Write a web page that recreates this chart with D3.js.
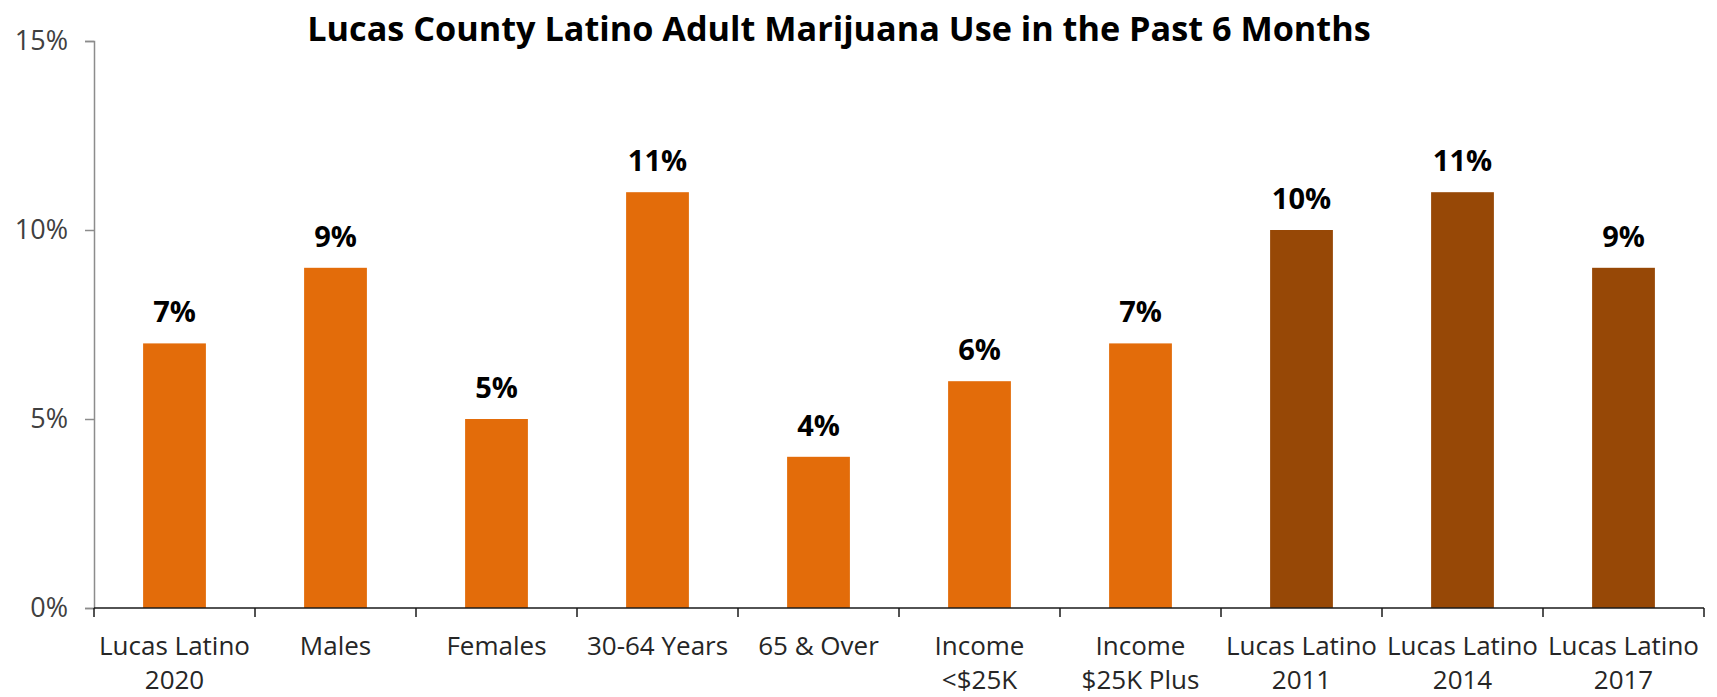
<!DOCTYPE html>
<html><head><meta charset="utf-8">
<script src="https://cdn.jsdelivr.net/npm/d3@7/dist/d3.min.js"></script>
<style>
html,body{margin:0;padding:0;background:#fff;}
svg{display:block;font-family:"Open Sans","Noto Sans",sans-serif;}
</style></head>
<body>
<svg id="chart" width="1717" height="697"></svg>
<script>
const titleText = "Lucas County Latino Adult Marijuana Use in the Past 6 Months";
const categories = ["Lucas Latino\n2020","Males","Females","30-64 Years","65 & Over","Income\n<$25K","Income\n$25K Plus","Lucas Latino\n2011","Lucas Latino\n2014","Lucas Latino\n2017"];
const values = [7, 9, 5, 11, 4, 6, 7, 10, 11, 9];
const groups = ["current","current","current","current","current","current","current","past","past","past"];
const yTicks = [0, 5, 10, 15];

const colors = {current:"#E36C0A", past:"#974806"};
const W = 1717, H = 697;
const m = {left:94, right:13, top:41, bottom:89};
const svg = d3.select("#chart");

const x = d3.scaleBand().domain(categories).range([m.left, W - m.right]).paddingInner(0.61).paddingOuter(0.305);
const y = d3.scaleLinear().domain([0, 15]).range([H - m.bottom, m.top]);

function fit(sel, target){
  const w = sel.node().getComputedTextLength();
  const fs = parseFloat(sel.attr("font-size"));
  sel.attr("font-size", fs * target / w);
}

// title
const t = svg.append("text").attr("x", 839).attr("y", 41).attr("text-anchor","middle")
  .attr("font-weight","bold").attr("font-size",28).attr("fill","#000").text(titleText);
fit(t, 1064);

// y axis
const yAxis = svg.append("g").attr("transform",`translate(${m.left},0)`)
  .call(d3.axisLeft(y).tickValues(yTicks).tickFormat(d => d + "%").tickSize(9).tickPadding(17));
yAxis.select(".domain").attr("stroke","#8c8c8c").attr("stroke-width",1.5);
yAxis.selectAll(".tick line").attr("stroke","#8c8c8c").attr("stroke-width",1.5);
yAxis.selectAll("text").attr("font-size",27).attr("fill","#404040").attr("font-family","'Open Sans',sans-serif");

// bars
svg.append("g").selectAll("rect").data(categories).join("rect")
  .attr("x", d => x(d)).attr("width", x.bandwidth())
  .attr("y", (d,i) => y(values[i])).attr("height", (d,i) => y(0) - y(values[i]))
  .attr("fill", (d,i) => colors[groups[i]]);

// data labels
svg.append("g").selectAll("text").data(categories).join("text")
  .attr("x", d => x(d) + x.bandwidth()/2).attr("y", (d,i) => y(values[i]) - 21)
  .attr("text-anchor","middle").attr("font-weight","bold").attr("font-size",29).attr("fill","#000")
  .text((d,i) => values[i] + "%");

// x axis
const step = x.step();
const xg = svg.append("g");
xg.append("line").attr("x1", m.left).attr("x2", W - m.right).attr("y1", y(0)).attr("y2", y(0))
  .attr("stroke","#1a1a1a").attr("stroke-width",1.5);
const edges = d3.range(categories.length + 1).map(i => m.left + i * step);
xg.selectAll(".xt").data(edges).join("line").attr("class","xt")
  .attr("x1", d => d).attr("x2", d => d).attr("y1", y(0)).attr("y2", y(0) + 9)
  .attr("stroke","#1a1a1a").attr("stroke-width",1.5);
const lbl = xg.selectAll(".xl").data(categories).join("text").attr("class","xl")
  .attr("text-anchor","middle").attr("font-size",26).attr("fill","#262626");
lbl.each(function(d){
  const parts = d.split("\n");
  const cx = x(d) + x.bandwidth()/2;
  d3.select(this).selectAll("tspan").data(parts).join("tspan")
    .attr("x", cx).attr("y", (p,i) => y(0) + 47 + i*34).text(p => p);
});
</script>
</body></html>
